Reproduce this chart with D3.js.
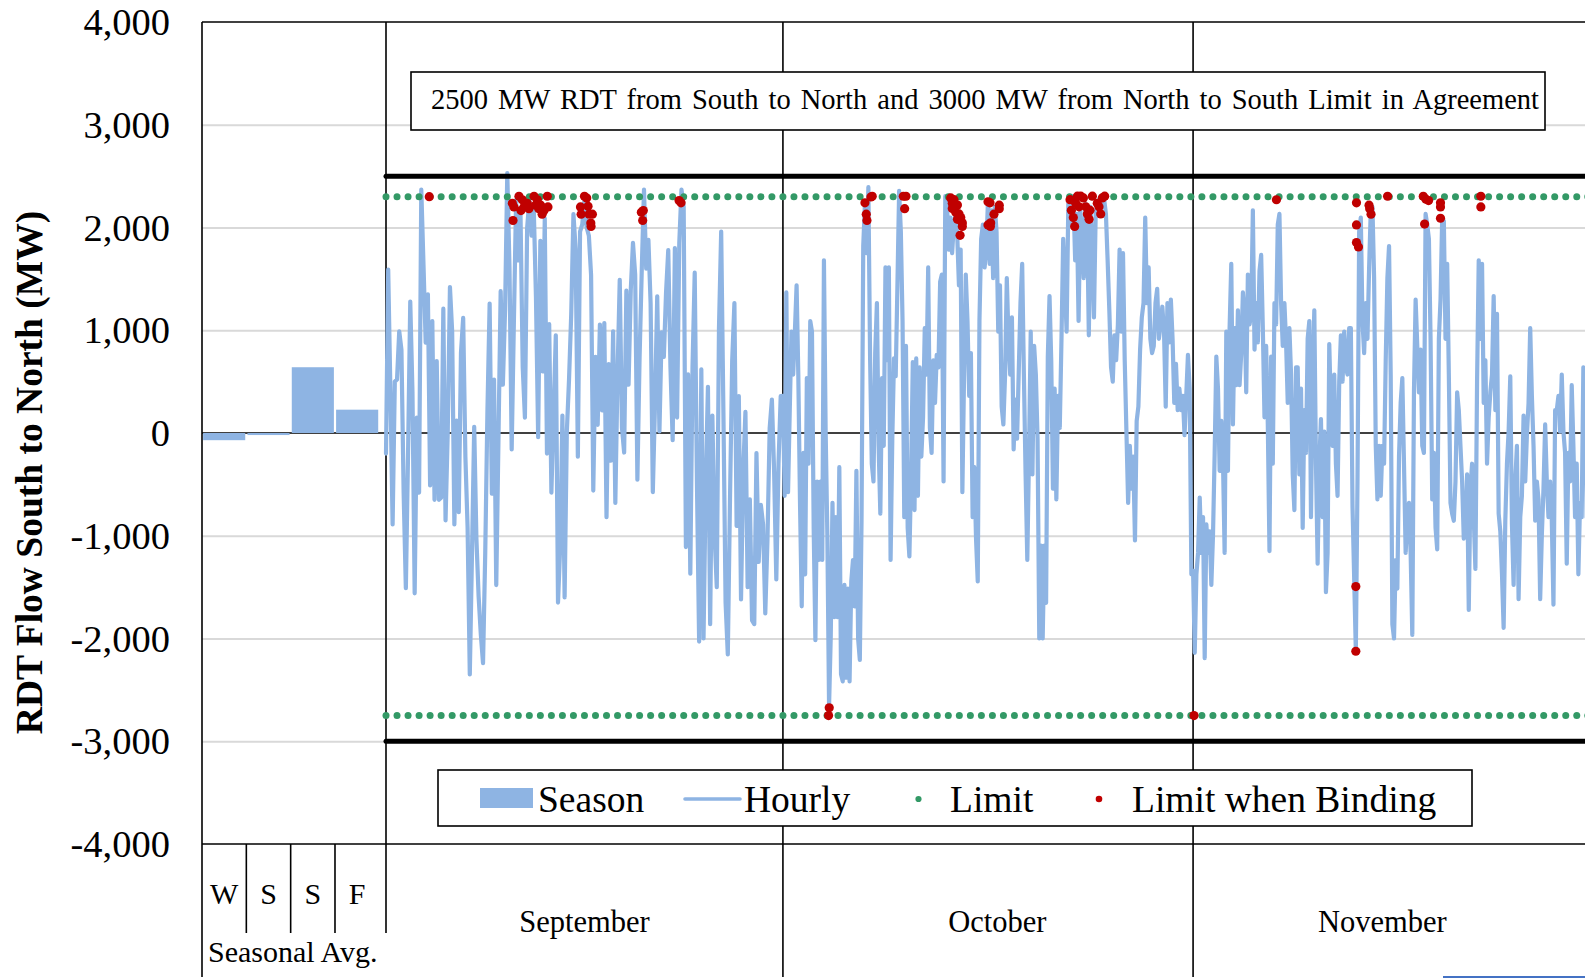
<!DOCTYPE html>
<html>
<head>
<meta charset="utf-8">
<script src="https://cdn.jsdelivr.net/npm/d3@7"></script>
<style>
  html, body { margin: 0; padding: 0; background: #fff; overflow: hidden; }
  svg { display: block; }
  text { font-family: "Times New Roman", "Liberation Serif", serif; fill: #000; }
</style>
</head>
<body>
<svg id="chart" width="1585" height="980"></svg>
<script>
// ---- data -------------------------------------------------------------
const yTicks = [4000, 3000, 2000, 1000, 0, -1000, -2000, -3000, -4000];

const seasonNames = ["W", "S", "S", "F"];
const seasonAvg = [-70, -20, 640, 227];

const monthNames = ["September", "October", "November"];
const monthDays = [30, 31, 30];
const monthLabelDay = [15.0, 46.2, 75.3];

const agreementLimits = [2500, -3000];
const hourlyLimits = [2300, -2750];
const limitStepHours = 20;

// hourly RDT flow, MW, evenly spaced through each month
const sepFlow = [
  -200, 1590, 400, -890, 500, 520, 990, 810, -580, -1510, -200, 1280, 400, -1560, 150, -580,
  2370, 1640, 880, 1350, -510, 1090, -650, 700, -650, -630, 1210, -850, 10, 1420, 990, -890,
  120, -770, 780, 1120, -230, -920, -2350, -1170, 60, -1030, -1590, -1960, -2240, -1170, 220, 1260,
  -590, 520, -1480, -60, 1380, 470, 1200, 2530, 1610, -160, 1090, 2270, 1680, 2130, 640, 150,
  1990, 2270, 1920, 2190, 1330, -40, 1870, 600, 2090, -200, 1060, -580, 190, 950, -1650, -1100,
  170, -1600, 10, 520, 1160, 2130, 1790, -230, 1960, 2030,
  2270, 2000, 1920, 1540, -560, 740, 80, 1055, 220, 1070, -820, 670, -270, 990, -680, 570,
  1490, 50, -190, 1385, 470, 1390, 1850, 1540, -455, 740, 1600, 2370, 1600, 1880, 1260, -575,
  290, 1330, 15, 980, 740, 1370, 1780, 640, -70, 1800, 150, 1850, 2370, 2200, -1110, 570,
  -1370, 640, 1560, -470, -2030, 620, -2000, -470, 450, -1860, 170, -990, -1500, 1020, 1960, 220,
  -1650, -2155, -645, 710, 1265, -905, 360, -1620, -370, 205, -1500, -645, -1825, -1860, -195, -1255,
  -700, -890, -1755, -1030, 50, 326, -370, -1425, -300, 360
];

const octFlow = [
  361, -611, 1368, -576, 222, 986, 569, 986, 1437, 569, -680, -1687, -194, -1375, 535, -299,
  1090, 986, -924, -2017, -472, -1236, -472, -1236, 1680, 14, -993, -2660, -1965, -680, -1792, -819,
  -1792, -333, -2347, -2417, -1479, -2382, -1514, -2417, -1444, -1236, -1687, -368, -2000, -2208, -854, 1819,
  2236, 1750, 2392, 743, -299, -472, 778, 1264, -125, -785, 535, -125, 1611, 708, 1611, -1236,
  -56, 726, 552, 1437, 2357, 1958, 1090, -819, 847, -924, -1201, -403, 691, -750, 726, -611,
  639, -229, 153, 1021, 569, 1611, 49, -194, 708, 292, 760, 639, 1472, 1542, -472, 2305,
  2236, 1785, 2097, 1750, 2028, 2132, 1924, 1437, 1785, -576, 569, 1542, 1090, 361, 778, -819,
  -333, -1028, -1444, 1090, 1889, 2028,
  1611, 1785, 2271, 1646, 2167, 1507, 2201, 1958, 986, 1437, 257, 83, 569, 1507, 917, 569,
  1125, -160, 326, -56, 604, 1264, 1646, 569, -403, -1236, -194, 986, -403, 847, 569, -56,
  -2000, -1097, -2000, -1097, -1653, 743, 1333, 708, -542, 431, -646, 361, 49, 917, 1889, 1437,
  986, 2236, 2167, 2028, 2305, 1680, 2132, 1090, 2167, 1958, 1507, 2236, 2097, 951, 2201, 1785,
  1125, 2132, 2236, 2271, 2305, 2201, 2271, 2132, 1680, 1194, 639, 500, 951, 708, 1056, 1785,
  986, 1750, 708, 14, -680, -125, -542, -229, -1045, 118, 257, 812, 1125, 1264, 2097, 1264,
  1611, 917, 778, 847, 1264, 1403, 917, 1056, 1229, 986, 257, 1264, 882, 1299, 917, 292,
  674, 222, 431, 222, 361, -21, 361, 760, 431, -1375
];

const novFlow = [
  -1340, -2139, -1375, -1167, -628, -1167, -819, -2191, -889, -1167, -958, -1479, -993, -194, 743, 431,
  -368, 118, -264, -1167, 986, -368, 1021, 1646, 83, 1021, 465, 1194, 465, 778, 1368, 1160,
  396, 1542, 1056, 1160, 2167, 812, 1264, 882, 1576, 1733, 1021, 153, 847, 83, -1149, 743,
  -299, 1264, 1056, 2028, 2132, 1264, 847, 1264, 882, 292, 1021, 569, -403, -750, 639, 639,
  -403, 431, -924, 222, -194, 917, 1090, -819, 569, 1194, -299, -1271, -299, 135, -819, 14,
  -1549, -1167, 865, 222, -125, 569, -299, -611, 500, 951, 500, 986, 639, 569, 1021, 1021,
  -715, -1410, -2125, -472, 1958, 2097, 1090, 778, 1264, 917, 1611, 2167, 2201, 1507, -125, -646,
  -125, -611, -125, -299, 708, 1507, 1819, 569,
  -1861, -2000, -1236, -1514, -229, 292, 535, -299, -1167, -819, -680, -1167, -1965, 396, 1299, 847,
  396, 812, -125, -194, 2132, 2028, 1889, 917, -646, -194, -924, -1132, 917, 1299, 2097, 2062,
  917, 1646, 569, -680, -785, -854, -472, 396, 222, -125, -472, -1028, -958, -403, -1722, -542,
  -299, -819, -1323, 500, 1680, 917, 1646, 292, 708, -299, 153, 396, 569, 1333, 222, 1160,
  -785, -958, -1375, -1896, -854, -299, 14, 552, -889, -1479, -472, -125, -1618, -819, -611, 170,
  -472, -21, 292, 1021, 361, -125, -854, -472, -646, -1618, -993, -542, 83, -472, -819, -472,
  -854, -1670, 222, 222, 361, 14, 569, 14, -194, -1271, -194, -472, 465, -125, -819, -299,
  -1375, -680, -819, 639, 500, -819, -500
];

// hours where the limit was binding: [day since 1 Sep, MW]
const bindingPoints = [
  [3.27, 2300],
  [9.55, 2235], [9.6, 2068], [9.67, 2200], [10.05, 2304], [10.2, 2165], [10.3, 2270], [10.43, 2200],
  [10.55, 2235], [10.68, 2235], [10.8, 2183], [11.19, 2304], [11.3, 2217], [11.44, 2270], [11.55, 2183],
  [11.69, 2217], [11.8, 2130], [11.94, 2165], [12.19, 2304], [12.24, 2200],
  [14.7, 2200], [14.75, 2130], [15.0, 2304], [15.17, 2287], [15.27, 2207], [15.35, 2130], [15.48, 2044],
  [15.5, 2010], [15.6, 2130],
  [19.3, 2148], [19.45, 2165], [19.4, 2068],
  [22.15, 2262], [22.3, 2240],
  [33.45, -2750], [33.5, -2675],
  [36.2, 2240], [36.3, 2130], [36.35, 2068], [36.65, 2297], [36.75, 2304],
  [39.1, 2304], [39.3, 2304], [39.2, 2183],
  [42.68, 2288], [42.8, 2236], [42.93, 2271], [42.8, 2184], [43.06, 2149], [43.19, 2219], [43.31, 2132],
  [43.19, 2080], [43.44, 2097], [43.56, 2045], [43.56, 2010], [43.39, 1924], [42.98, 2201],
  [45.5, 2250], [45.5, 2025], [45.65, 2240], [45.95, 2130], [45.7, 2045], [45.68, 2010], [46.35, 2217],
  [46.35, 2183],
  [51.7, 2271], [51.8, 2167], [51.95, 2097], [52.05, 2010], [52.13, 2236], [52.26, 2305], [52.38, 2201],
  [52.51, 2305], [52.71, 2288], [52.89, 2201], [53.01, 2132], [53.14, 2080], [53.21, 2167], [53.39, 2305],
  [53.76, 2236], [53.89, 2201], [54.02, 2132], [54.14, 2288], [54.32, 2305],
  [61.07, -2750],
  [67.3, 2270],
  [73.3, -1495], [73.3, -2124],
  [73.35, 2240], [73.35, 2025], [73.35, 1853], [73.5, 1811],
  [74.3, 2217], [74.35, 2183], [74.45, 2130],
  [75.7, 2304],
  [78.4, 2304], [78.6, 2276], [78.8, 2262], [78.5, 2033],
  [79.7, 2240], [79.7, 2200], [79.7, 2090],
  [82.75, 2304], [82.75, 2200]
];

const titleText = "2500 MW RDT from South to North and 3000 MW from North to South Limit in Agreement";
const yAxisTitle = "RDT Flow South to North (MW)";
const legendItems = ["Season", "Hourly", "Limit", "Limit when Binding"];

// ---- layout -----------------------------------------------------------
const W = 1585, H = 980;
const plot = { left: 202, top: 22, bottom: 844, right: 1590 };
const hourlyStartX = 386;
const colors = {
  blue: "#8eb4e3", green: "#339966", red: "#c00000", grid: "#d9d9d9"
};

const svg = d3.select("#chart");
const monthFlows = [sepFlow, octFlow, novFlow];
const totalHours = d3.sum(monthDays) * 24;

const y = d3.scaleLinear().domain([-4000, 4000]).range([plot.bottom, plot.top]);
const x = d3.scaleLinear().domain([0, totalHours]).range([hourlyStartX, plot.right]);
const xs = d3.scaleBand().domain(d3.range(seasonNames.length))
  .range([plot.left, plot.left + 4 * 44.33]).paddingInner(0.05).paddingOuter(0.025);

const fmt = d3.formatLocale({ decimal: ".", thousands: ",", grouping: [3], currency: ["$", ""], minus: "-" }).format(",");

// month boundaries in hours
const monthStart = [];
monthDays.reduce((acc, d, i) => { monthStart[i] = acc; return acc + d * 24; }, 0);

// hourly series as [hour, MW]
const hourly = [];
monthFlows.forEach((arr, m) => {
  const span = monthDays[m] * 24;
  arr.forEach((v, i) => hourly.push([monthStart[m] + i * span / arr.length, v]));
});

// ---- gridlines --------------------------------------------------------
svg.append("g")
  .attr("transform", `translate(${plot.left},0)`)
  .call(d3.axisLeft(y).tickValues(yTicks.filter(t => t !== 0 && Math.abs(t) !== 4000))
    .tickSize(-(plot.right - plot.left)).tickFormat(""))
  .call(g => g.select(".domain").remove())
  .call(g => g.selectAll("line").attr("stroke", colors.grid).attr("stroke-width", 2));

// ---- frame and category dividers ---------------------------------------
const frame = svg.append("g").attr("stroke", "#000").attr("stroke-width", 1.6).attr("fill", "none");
frame.append("line").attr("x1", plot.left).attr("x2", plot.right).attr("y1", y(4000)).attr("y2", y(4000));
frame.append("line").attr("x1", plot.left).attr("x2", plot.right).attr("y1", y(-4000)).attr("y2", y(-4000));
frame.append("line").attr("x1", plot.left).attr("x2", plot.left).attr("y1", y(4000)).attr("y2", H - 3);
// seasonal block boundary
frame.append("line").attr("x1", x(0)).attr("x2", x(0)).attr("y1", y(4000)).attr("y2", 933);
// month boundaries
monthStart.slice(1).forEach(h => {
  frame.append("line").attr("x1", x(h)).attr("x2", x(h)).attr("y1", y(4000)).attr("y2", H - 3);
});
// season cell dividers
d3.range(1, seasonNames.length).forEach(i => {
  const xx = xs(i) - xs.step() * xs.paddingInner() / 2;
  frame.append("line").attr("x1", xx).attr("x2", xx).attr("y1", y(-4000)).attr("y2", 933);
});
// zero line
frame.append("line").attr("x1", plot.left).attr("x2", plot.right).attr("y1", y(0)).attr("y2", y(0));

// ---- seasonal average bars ----------------------------------------------
svg.append("g").selectAll("rect").data(seasonAvg).join("rect")
  .attr("x", (d, i) => xs(i))
  .attr("width", xs.bandwidth())
  .attr("y", d => y(Math.max(0, d)))
  .attr("height", d => Math.max(1.5, Math.abs(y(d) - y(0))))
  .attr("fill", colors.blue);

// ---- hourly flow ----------------------------------------------------------
svg.append("path").datum(hourly)
  .attr("d", d3.line().x(d => x(d[0])).y(d => y(d[1])))
  .attr("fill", "none").attr("stroke", colors.blue)
  .attr("stroke-width", 4.2).attr("stroke-linejoin", "round").attr("stroke-linecap", "round");

// ---- agreement limits -----------------------------------------------------
svg.append("g").selectAll("line").data(agreementLimits).join("line")
  .attr("x1", x(0)).attr("x2", x(totalHours))
  .attr("y1", d => y(d)).attr("y2", d => y(d))
  .attr("stroke", "#000").attr("stroke-width", 5).attr("stroke-linecap", "round");

// ---- hourly limit markers -------------------------------------------------
const limitHours = d3.range(0, totalHours + 1, limitStepHours);
svg.append("g").selectAll("g").data(hourlyLimits).join("g")
  .each(function (lim) {
    d3.select(this).selectAll("circle").data(limitHours).join("circle")
      .attr("cx", h => x(h)).attr("cy", y(lim)).attr("r", 3.5).attr("fill", colors.green);
  });

// ---- binding markers ------------------------------------------------------
svg.append("g").selectAll("circle").data(bindingPoints).join("circle")
  .attr("cx", d => x(d[0] * 24)).attr("cy", d => y(d[1]))
  .attr("r", 4.6).attr("fill", colors.red);

// ---- y axis labels --------------------------------------------------------
svg.append("g")
  .attr("transform", `translate(${plot.left},0)`)
  .call(d3.axisLeft(y).tickValues(yTicks).tickSize(0).tickPadding(32).tickFormat(fmt))
  .call(g => g.select(".domain").remove())
  .call(g => g.selectAll("text")
    .attr("font-family", "'Times New Roman','Liberation Serif',serif")
    .attr("font-size", 38.5).attr("dy", "0.33em").attr("fill", "#000"));

svg.append("text")
  .attr("transform", `translate(42,${(209 + 736) / 2}) rotate(-90)`)
  .attr("text-anchor", "middle")
  .attr("font-size", 37.5).attr("font-weight", "bold")
  .text(yAxisTitle);

// ---- category labels ------------------------------------------------------
svg.append("g").selectAll("text").data(seasonNames).join("text")
  .attr("x", (d, i) => xs(i) + xs.bandwidth() / 2)
  .attr("y", 904).attr("text-anchor", "middle").attr("font-size", 30)
  .text(d => d);
svg.append("text").attr("x", 208).attr("y", 962).attr("font-size", 30).text("Seasonal Avg.");

svg.append("g").selectAll("text").data(monthNames).join("text")
  .attr("x", (d, i) => x(monthLabelDay[i] * 24))
  .attr("y", 932).attr("text-anchor", "middle").attr("font-size", 30.5)
  .text(d => d);

// ---- title box --------------------------------------------------------------
svg.append("rect").attr("x", 411).attr("y", 72).attr("width", 1134).attr("height", 58)
  .attr("fill", "#fff").attr("stroke", "#000").attr("stroke-width", 1.6);
const title = svg.append("text").attr("x", 431).attr("y", 109).attr("font-size", 28.5).text(titleText);
const natural = title.node().getComputedTextLength();
const spaces = titleText.split(" ").length - 1;
title.attr("word-spacing", (1108 - natural) / spaces);

// ---- legend ------------------------------------------------------------------
const lg = svg.append("g");
lg.append("rect").attr("x", 438).attr("y", 770).attr("width", 1034).attr("height", 56)
  .attr("fill", "#fff").attr("stroke", "#000").attr("stroke-width", 1.6);
lg.append("rect").attr("x", 480).attr("y", 788).attr("width", 53).attr("height", 20).attr("fill", colors.blue);
lg.append("line").attr("x1", 685).attr("x2", 740).attr("y1", 799).attr("y2", 799)
  .attr("stroke", colors.blue).attr("stroke-width", 3.6).attr("stroke-linecap", "round");
lg.append("circle").attr("cx", 918.5).attr("cy", 799).attr("r", 3.1).attr("fill", colors.green);
lg.append("circle").attr("cx", 1099).attr("cy", 799).attr("r", 3.3).attr("fill", colors.red);
const legendX = [538, 744, 950, 1132];
lg.selectAll("text").data(legendItems).join("text")
  .attr("x", (d, i) => legendX[i]).attr("y", 812).attr("font-size", 37.5)
  .text(d => d);

// ---- stray rule along the bottom edge ---------------------------------------
svg.append("line").attr("x1", 1443).attr("x2", W).attr("y1", 977).attr("y2", 977)
  .attr("stroke", "#4472c4").attr("stroke-width", 2);
</script>
</body>
</html>
